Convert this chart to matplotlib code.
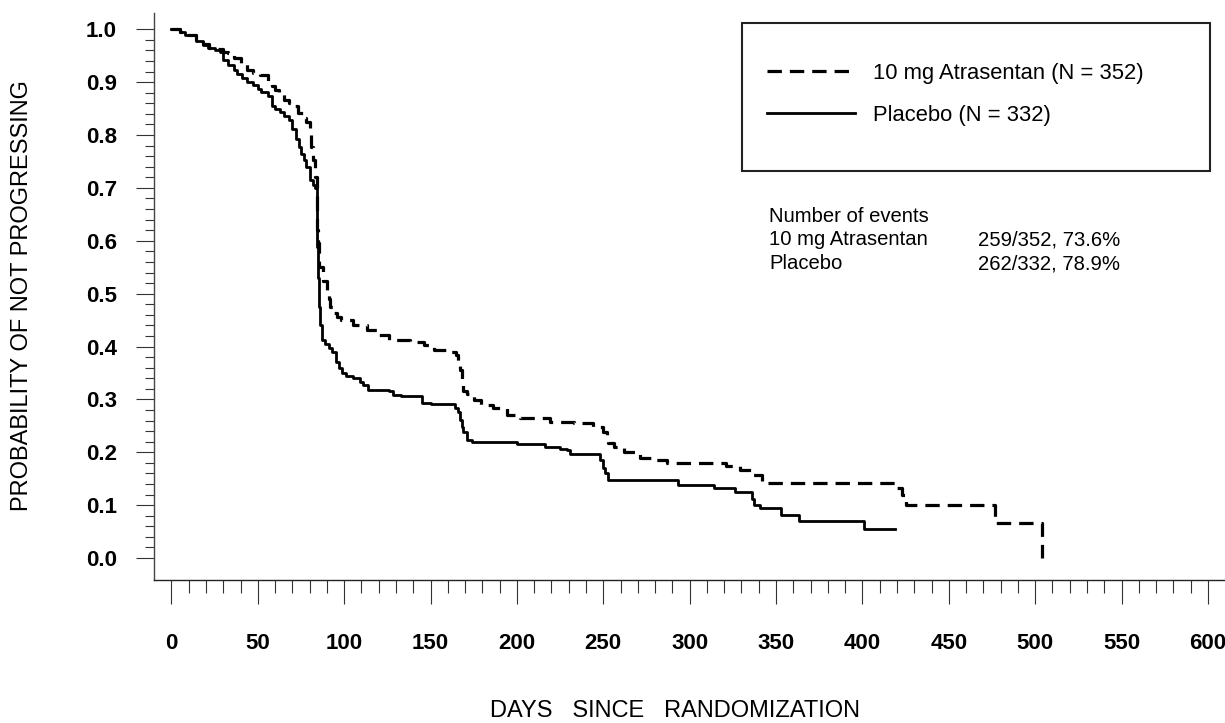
# Kaplan-Meier style plot: progression-free probability, Atrasentan vs placebo

import matplotlib
matplotlib.use('Agg')
import matplotlib.pyplot as plt
from matplotlib.patches import Rectangle
import numpy as np

# step curves (day, probability not progressing)
atra_days = [0, 5, 8, 14, 18, 22, 26, 30, 33, 36, 40, 44, 47, 51, 56, 58, 60, 62,
             65, 68, 70, 73, 76, 78, 80, 81, 82, 83, 84, 84.5, 85, 85.6, 88, 90,
             91, 92, 94, 96, 98, 105, 113, 119, 126, 138, 146, 152, 162, 165, 166,
             167, 168, 169, 171, 175, 179, 186, 194, 202, 219, 233, 244, 250, 252,
             253, 256, 262, 271, 280, 287, 321, 329, 336, 342, 345, 419, 423, 425,
             477, 504]
atra_surv = [1.0, 0.995, 0.990, 0.980, 0.972, 0.965, 0.962, 0.958, 0.955, 0.945,
             0.936, 0.923, 0.918, 0.914, 0.898, 0.893, 0.885, 0.877, 0.866, 0.860,
             0.854, 0.841, 0.833, 0.825, 0.803, 0.778, 0.753, 0.721, 0.677, 0.620,
             0.595, 0.551, 0.523, 0.505, 0.490, 0.475, 0.463, 0.455, 0.450, 0.441,
             0.431, 0.422, 0.412, 0.409, 0.403, 0.393, 0.390, 0.384, 0.370, 0.356,
             0.337, 0.315, 0.311, 0.299, 0.289, 0.283, 0.270, 0.264, 0.258, 0.255,
             0.248, 0.239, 0.225, 0.217, 0.2105, 0.201, 0.189, 0.185, 0.180, 0.174,
             0.1665, 0.157, 0.144, 0.141, 0.132, 0.119, 0.100, 0.0668, 0.0]

pbo_days = [0, 5, 8, 14, 18, 21, 25, 28, 30, 33, 36, 38, 41, 44, 47, 50, 52, 56,
            58, 60, 63, 65, 68, 70, 72, 74, 75, 77, 78, 80, 82, 83, 84, 84.5, 85,
            85.5, 86, 87, 89, 91, 93, 95, 97, 99, 101, 105, 109, 111, 114, 126, 128,
            133, 145, 150, 164, 166, 167, 168, 169, 171, 174, 200, 216, 225, 229,
            231, 248, 250, 251, 253, 293, 314, 326, 336, 337, 341, 353, 363, 401, 419]
pbo_surv = [1.0, 0.995, 0.989, 0.977, 0.970, 0.964, 0.960, 0.958, 0.942, 0.932,
            0.923, 0.915, 0.907, 0.900, 0.895, 0.888, 0.882, 0.873, 0.854, 0.850,
            0.844, 0.836, 0.828, 0.812, 0.792, 0.778, 0.765, 0.752, 0.740, 0.715,
            0.705, 0.700, 0.640, 0.589, 0.530, 0.475, 0.440, 0.412, 0.405, 0.398,
            0.390, 0.370, 0.360, 0.350, 0.345, 0.340, 0.333, 0.328, 0.318, 0.315,
            0.308, 0.306, 0.294, 0.291, 0.283, 0.277, 0.261, 0.248, 0.239, 0.223,
            0.220, 0.2156, 0.2105, 0.207, 0.204, 0.197, 0.185, 0.170, 0.160, 0.1475,
            0.139, 0.132, 0.124, 0.112, 0.100, 0.094, 0.081, 0.0706, 0.0555, 0.0555]

labels = ['10 mg Atrasentan (N = 352)', 'Placebo (N = 332)']
event_rows = ['10 mg Atrasentan', 'Placebo']
event_vals = ['259/352, 73.6%', '262/332, 78.9%']

W, H = 1225, 723
fig = plt.figure(figsize=(W / 100, H / 100), dpi=100)
ax = fig.add_axes([154 / W, 1 - 580 / H, 1 - 154 / W, (580 - 12.7) / H])

l1, = ax.plot(atra_days, atra_surv, drawstyle='steps-post', color='black',
              lw=2.3, dashes=(4.5, 2.5))
l2, = ax.plot(pbo_days, pbo_surv, drawstyle='steps-post', color='black', lw=2.0)

ax.set_xlim(-10.1, 609.9)
ax.set_ylim(-0.0416, 1.0314)

for s in ['top', 'right']:
    ax.spines[s].set_visible(False)
ax.spines['left'].set_color('#444')
ax.spines['bottom'].set_color('#222')
ax.spines['left'].set_linewidth(1.0)
ax.spines['bottom'].set_linewidth(1.0)

ax.set_xticks(np.arange(0, 601, 50))
ax.set_xticks(np.arange(0, 601, 10), minor=True)
ax.set_yticks(np.arange(0, 1.01, 0.1))
ax.set_yticks(np.arange(0, 1.001, 0.02), minor=True)
ax.set_yticklabels(['%.1f' % v for v in np.arange(0, 1.01, 0.1)])

ax.tick_params(axis='x', which='major', length=17.3, width=0.8, color='#333',
               pad=21, labelsize=16)
ax.tick_params(axis='x', which='minor', length=9, width=0.8, color='#333')
ax.tick_params(axis='y', which='major', length=13, width=0.8, color='#333',
               pad=13.7, labelsize=16)
ax.tick_params(axis='y', which='minor', length=6.5, width=0.8, color='#333')
for t in ax.get_xticklabels() + ax.get_yticklabels():
    t.set_fontfamily('Liberation Sans')
    t.set_fontweight('bold')

fig.text(22 / W, 1 - 296 / H, 'PROBABILITY OF NOT PROGRESSING', rotation=90,
         ha='center', va='center', fontsize=17, family='Liberation Sans')
fig.text(675 / W, 1 - 717 / H, 'DAYS   SINCE   RANDOMIZATION', ha='center',
         va='baseline', fontsize=17, family='Liberation Sans')

# legend box
fig.patches.append(Rectangle((742 / W, 1 - 171 / H), (1210 - 742) / W,
                             (171 - 23) / H, transform=fig.transFigure,
                             fill=False, lw=1.5, ec='#222'))
fig.legend([l1, l2], labels, loc='center left',
           bbox_to_anchor=(767 / W, 1 - 94.5 / H), frameon=False,
           borderpad=0, borderaxespad=0, handlelength=4.0, handletextpad=0.82,
           labelspacing=0.95, prop={'family': 'Liberation Sans', 'size': 15.8})

fig.text(769 / W, 1 - 216 / H, 'Number of events', va='center', fontsize=14.6,
         family='Liberation Sans')
for i, (r, v) in enumerate(zip(event_rows, event_vals)):
    y = 1 - (240 + 23.5 * i) / H
    fig.text(769 / W, y, r, va='center', fontsize=14.6, family='Liberation Sans')
    fig.text(978 / W, y, v, va='center', fontsize=14.6, family='Liberation Sans')

fig.savefig('out.png', dpi=100)
